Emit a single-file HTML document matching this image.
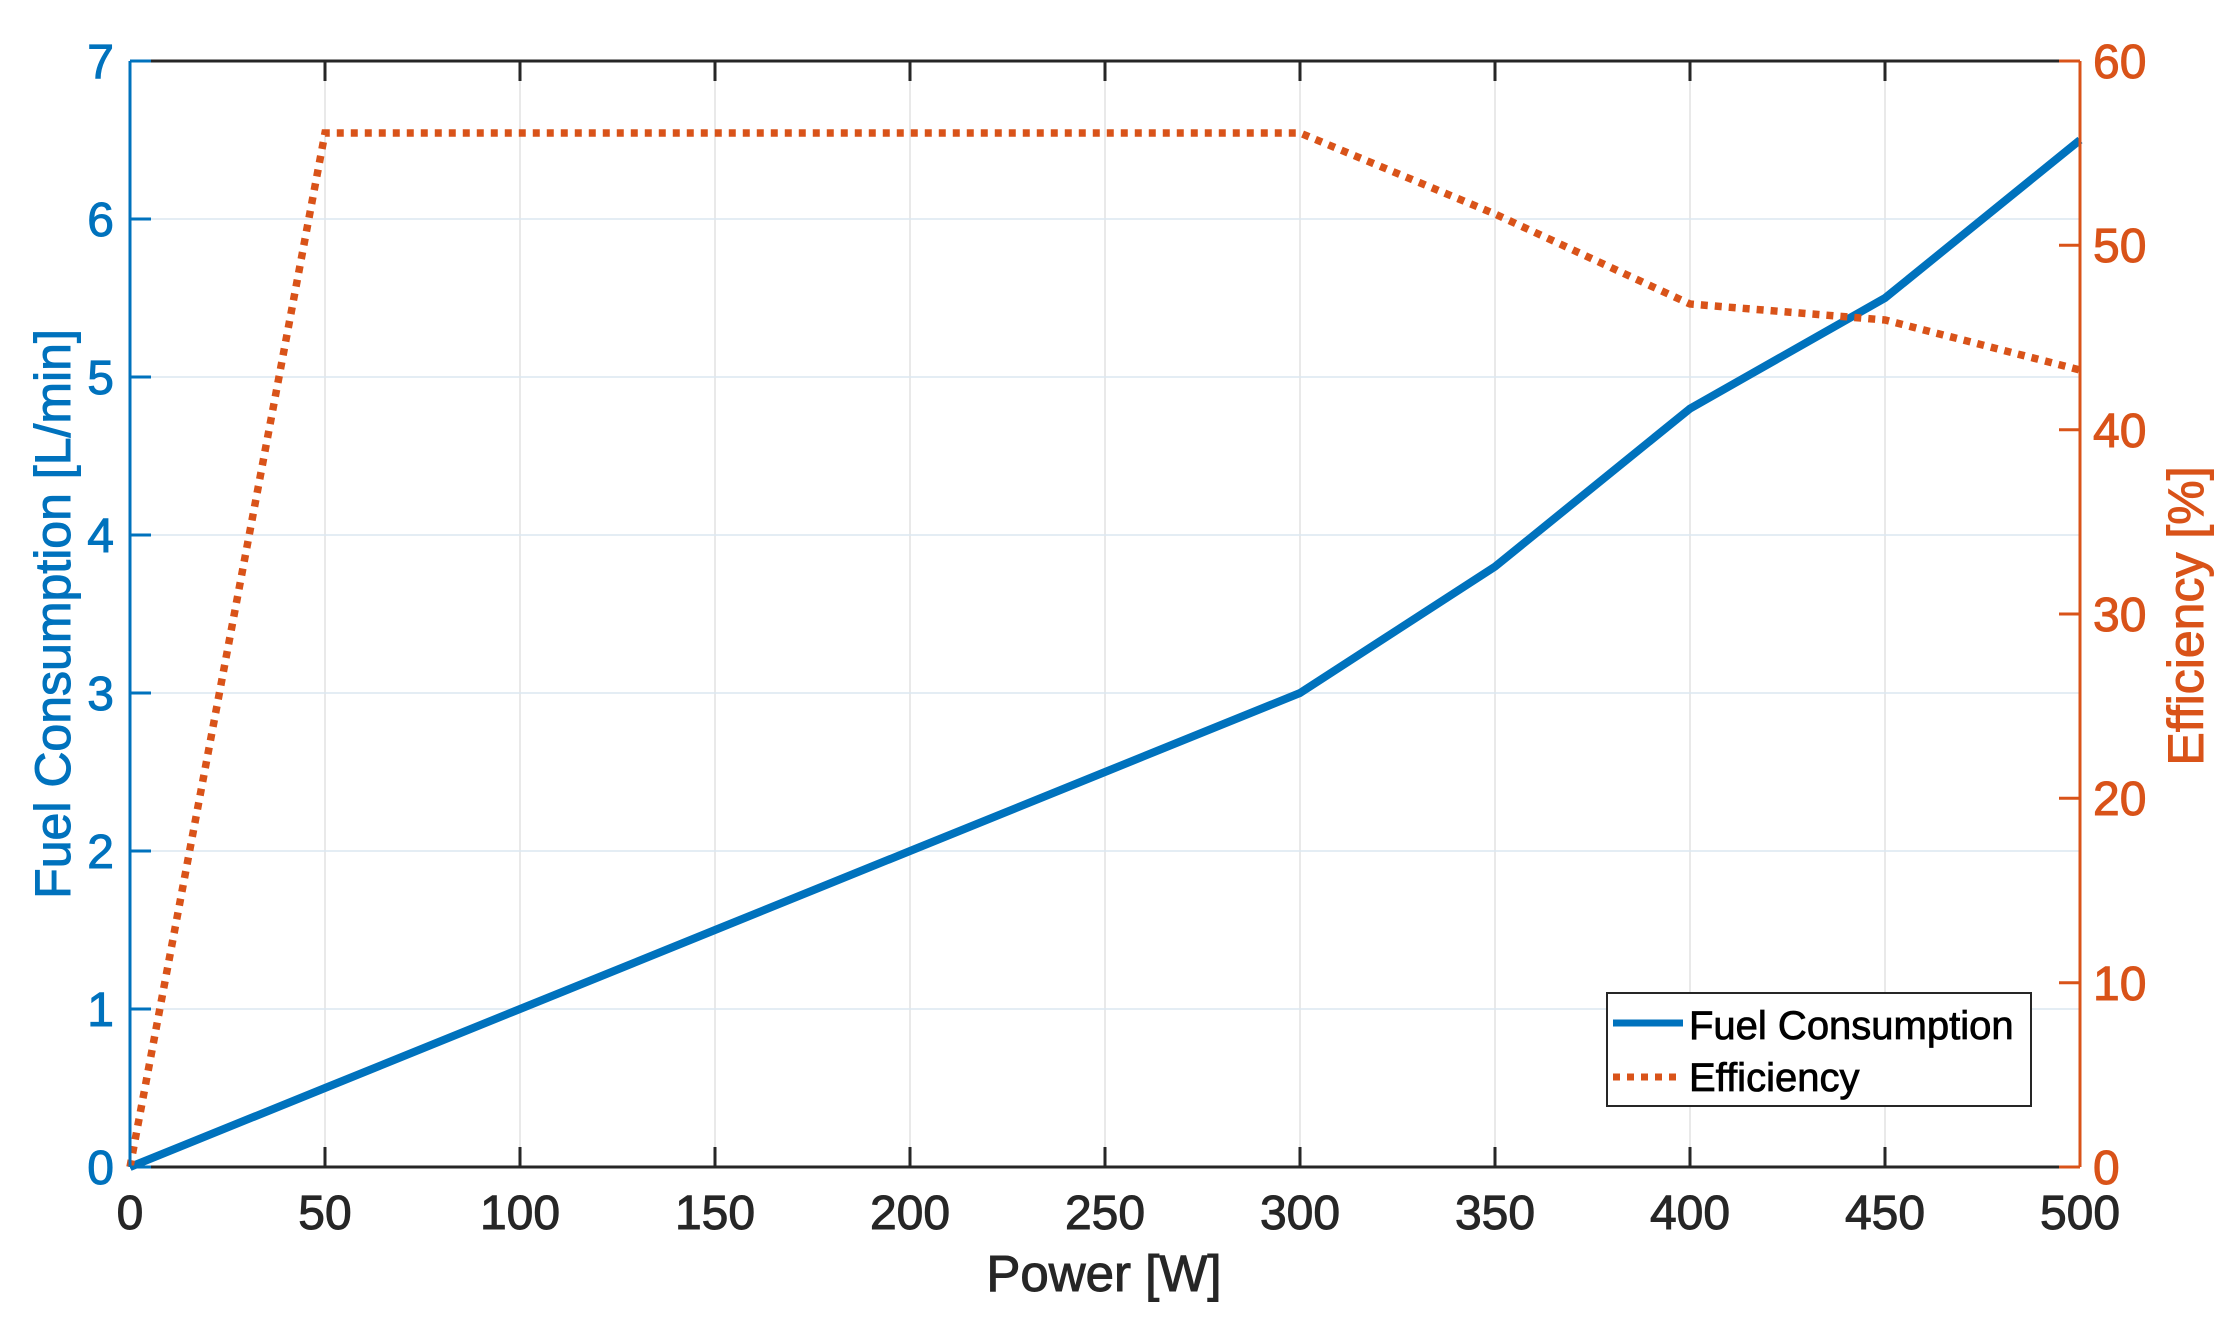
<!DOCTYPE html>
<html><head><meta charset="utf-8"><style>
html,body{margin:0;padding:0;background:#fff;}
svg{display:block;font-family:"Liberation Sans",Arial,sans-serif;}
</style></head><body>
<svg width="2236" height="1328" viewBox="0 0 2236 1328" xmlns="http://www.w3.org/2000/svg">
<rect width="2236" height="1328" fill="#fff"/>
<g stroke="#e2e2e2" stroke-width="1.5">
<line x1="325" y1="61" x2="325" y2="1167"/><line x1="520" y1="61" x2="520" y2="1167"/>
<line x1="715" y1="61" x2="715" y2="1167"/><line x1="910" y1="61" x2="910" y2="1167"/>
<line x1="1105" y1="61" x2="1105" y2="1167"/><line x1="1300" y1="61" x2="1300" y2="1167"/>
<line x1="1495" y1="61" x2="1495" y2="1167"/><line x1="1690" y1="61" x2="1690" y2="1167"/>
<line x1="1885" y1="61" x2="1885" y2="1167"/>
</g>
<g stroke="#dbe7f1" stroke-width="1.5">
<line x1="130" y1="219" x2="2080" y2="219"/><line x1="130" y1="377" x2="2080" y2="377"/>
<line x1="130" y1="535" x2="2080" y2="535"/><line x1="130" y1="693" x2="2080" y2="693"/>
<line x1="130" y1="851" x2="2080" y2="851"/><line x1="130" y1="1009" x2="2080" y2="1009"/>
</g>
<polyline fill="none" stroke="#0072BD" stroke-width="8" stroke-linejoin="round" points="130,1167 325,1088 520,1009 715,930 910,851 1105,772 1300,693 1495,566.6 1690,408.6 1885,298 2080,140"/>
<polyline fill="none" stroke="#D95319" stroke-width="7.5" stroke-dasharray="7 7" points="130,1167 325,133 1300,133 1495,214 1690,304 1885,320 2080,370"/>
<g stroke="#262626" stroke-width="3" fill="none">
<line x1="130" y1="61" x2="2080" y2="61"/><line x1="130" y1="1167" x2="2080" y2="1167"/>
</g>
<g stroke="#262626" stroke-width="3">
<line x1="325" y1="1167" x2="325" y2="1147"/><line x1="520" y1="1167" x2="520" y2="1147"/><line x1="715" y1="1167" x2="715" y2="1147"/><line x1="910" y1="1167" x2="910" y2="1147"/><line x1="1105" y1="1167" x2="1105" y2="1147"/><line x1="1300" y1="1167" x2="1300" y2="1147"/><line x1="1495" y1="1167" x2="1495" y2="1147"/><line x1="1690" y1="1167" x2="1690" y2="1147"/><line x1="1885" y1="1167" x2="1885" y2="1147"/>
<line x1="325" y1="61" x2="325" y2="81"/><line x1="520" y1="61" x2="520" y2="81"/><line x1="715" y1="61" x2="715" y2="81"/><line x1="910" y1="61" x2="910" y2="81"/><line x1="1105" y1="61" x2="1105" y2="81"/><line x1="1300" y1="61" x2="1300" y2="81"/><line x1="1495" y1="61" x2="1495" y2="81"/><line x1="1690" y1="61" x2="1690" y2="81"/><line x1="1885" y1="61" x2="1885" y2="81"/>
</g>
<g stroke="#0072BD" stroke-width="3">
<line x1="130" y1="61" x2="130" y2="1167"/>
<line x1="130" y1="61" x2="151" y2="61"/><line x1="130" y1="219" x2="151" y2="219"/><line x1="130" y1="377" x2="151" y2="377"/><line x1="130" y1="535" x2="151" y2="535"/><line x1="130" y1="693" x2="151" y2="693"/><line x1="130" y1="851" x2="151" y2="851"/><line x1="130" y1="1009" x2="151" y2="1009"/><line x1="130" y1="1167" x2="151" y2="1167"/>
</g>
<g fill="#0072BD" stroke="#0072BD" stroke-width="1" font-size="48" text-anchor="end">
<text x="114" y="78">7</text><text x="114" y="236">6</text><text x="114" y="394">5</text><text x="114" y="552">4</text><text x="114" y="710">3</text><text x="114" y="868">2</text><text x="114" y="1026">1</text><text x="114" y="1184">0</text>
</g>
<text transform="translate(70,614) rotate(-90)" text-anchor="middle" fill="#0072BD" stroke="#0072BD" stroke-width="1" font-size="50">Fuel Consumption [L/min]</text>
<g stroke="#D95319" stroke-width="3">
<line x1="2080" y1="61" x2="2080" y2="1167"/>
<line x1="2080" y1="61" x2="2059" y2="61"/><line x1="2080" y1="245.3" x2="2059" y2="245.3"/><line x1="2080" y1="429.7" x2="2059" y2="429.7"/><line x1="2080" y1="614" x2="2059" y2="614"/><line x1="2080" y1="798.3" x2="2059" y2="798.3"/><line x1="2080" y1="982.7" x2="2059" y2="982.7"/><line x1="2080" y1="1167" x2="2059" y2="1167"/>
</g>
<g fill="#D95319" stroke="#D95319" stroke-width="1" font-size="48">
<text x="2093" y="78">60</text><text x="2093" y="262">50</text><text x="2093" y="447">40</text><text x="2093" y="631">30</text><text x="2093" y="815">20</text><text x="2093" y="1000">10</text><text x="2093" y="1184">0</text>
</g>
<text transform="translate(2203,616) rotate(-90)" text-anchor="middle" fill="#D95319" stroke="#D95319" stroke-width="1" font-size="50">Efficiency [%]</text>
<g fill="#262626" stroke="#262626" stroke-width="1" font-size="48" text-anchor="middle">
<text x="130" y="1229">0</text><text x="325" y="1229">50</text><text x="520" y="1229">100</text><text x="715" y="1229">150</text><text x="910" y="1229">200</text><text x="1105" y="1229">250</text><text x="1300" y="1229">300</text><text x="1495" y="1229">350</text><text x="1690" y="1229">400</text><text x="1885" y="1229">450</text><text x="2080" y="1229">500</text>
</g>
<text x="1104" y="1291" text-anchor="middle" fill="#262626" stroke="#262626" stroke-width="1" font-size="51">Power [W]</text>
<rect x="1607" y="993" width="424" height="113" fill="#fff" stroke="#262626" stroke-width="2"/>
<line x1="1613" y1="1023" x2="1683" y2="1023" stroke="#0072BD" stroke-width="7"/>
<line x1="1613" y1="1077" x2="1683" y2="1077" stroke="#D95319" stroke-width="7" stroke-dasharray="7 7"/>
<text x="1689" y="1039" font-size="40" fill="#000" stroke="#000" stroke-width="0.8">Fuel Consumption</text>
<text x="1689" y="1091" font-size="40" fill="#000" stroke="#000" stroke-width="0.8">Efficiency</text>
</svg>
</body></html>
